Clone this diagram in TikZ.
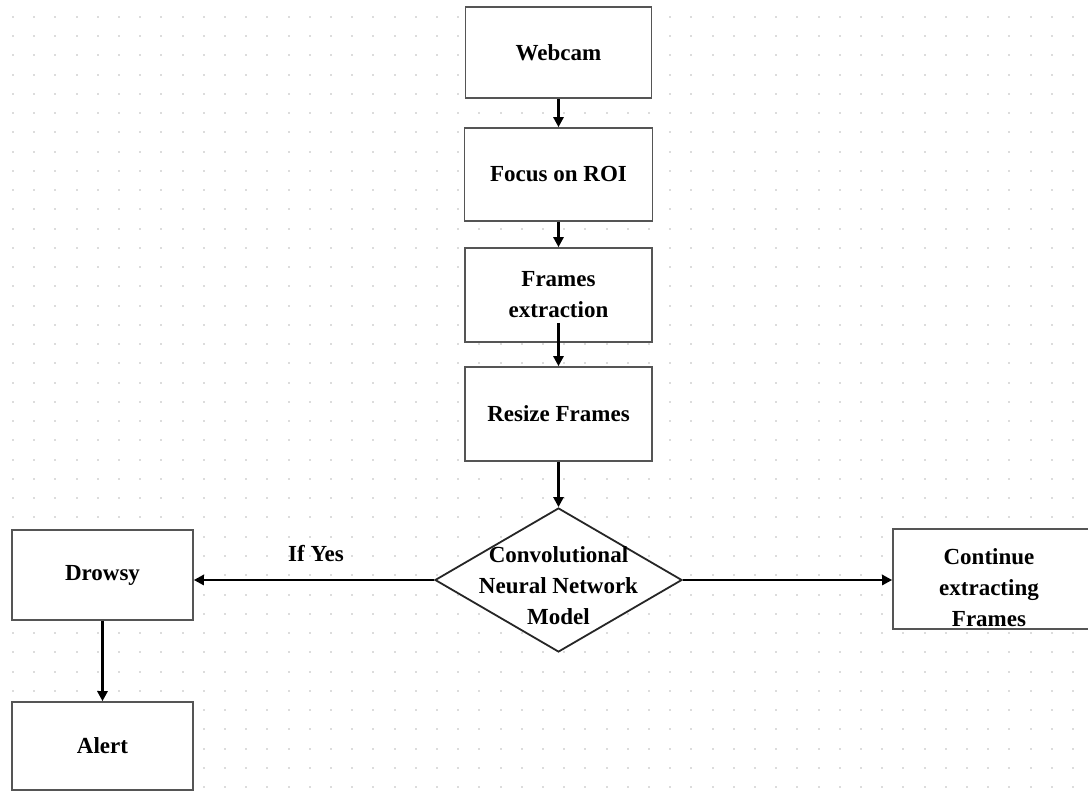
\documentclass[tikz,border=0pt]{standalone}
\usepackage{fontspec}
\setmainfont{Liberation Serif}
\usetikzlibrary{shapes.geometric,arrows.meta,calc}
\definecolor{dotgray}{HTML}{DCDCDC}
\definecolor{boxline}{HTML}{555555}
\begin{document}
\begin{tikzpicture}[x=1pt,y=-1pt,
  box/.style={draw=boxline, line width=1.6pt, fill=white, inner sep=0pt, align=center,
    font=\fontsize{23}{31}\selectfont\bfseries},
  lbl/.style={inner sep=0pt, align=center, font=\fontsize{23}{31}\selectfont\bfseries},
  arr/.style={line width=2.4pt, -{Triangle[length=10pt,width=10pt]}}]
\useasboundingbox (0,0) rectangle (1088,791);
\fill[white] (0,0) rectangle (1088,791);
% dotted grid
\foreach \i in {0,...,51}{
  \foreach \j in {0,...,40}{
    \fill[dotgray] ({13+21.2*\i-1},{17+19.25*\j-1}) rectangle ++(2,2);
  }
}
% boxes
\node[box, minimum width=186pt, minimum height=91pt] (web) at (558.5,52.5) {Webcam};
\node[box, minimum width=188pt, minimum height=93pt] (roi) at (558.5,174.5) {Focus on ROI};
\node[box, minimum width=187pt, minimum height=94pt] (fe) at (558.5,295) {Frames\\extraction};
\node[box, minimum width=187pt, minimum height=94pt] (rs) at (558.5,414) {Resize Frames};
\node[diamond, draw=black!85, line width=1.8pt, fill=white, inner sep=0pt,
      minimum width=247pt, minimum height=144pt] (cnn) at (558.5,580) {};
\node[lbl] (cnntext) at (558.5,586) {Convolutional\\Neural Network\\Model};
\node[box, minimum width=181pt, minimum height=90pt] (dr) at (102.5,575) {Drowsy};
\node[box, minimum width=181pt, minimum height=88pt] (al) at (102.5,746) {Alert};
\node[box, minimum width=197pt, minimum height=100pt] (cont) at (991.5,579) {};
\node[lbl] (conttext) at (989,588) {Continue\\extracting\\Frames};
\node[lbl] (ifyes) at (316,554) {If Yes};
% connectors
\coordinate (fx) at ([yshift=-28pt]fe.center);
\draw[arr] (web.south) -- (roi.north);
\draw[arr] (roi.south) -- (fe.north);
\draw[arr] (fx) -- (rs.north);
\draw[arr] (rs.south) -- (cnn.north);
\draw[arr] (cnn.west) -- (cnn.west -| dr.east);
\draw[arr] (cnn.east) -- (cnn.east -| cont.west);
\draw[arr] (dr.south) -- (al.north);
\end{tikzpicture}
\end{document}
